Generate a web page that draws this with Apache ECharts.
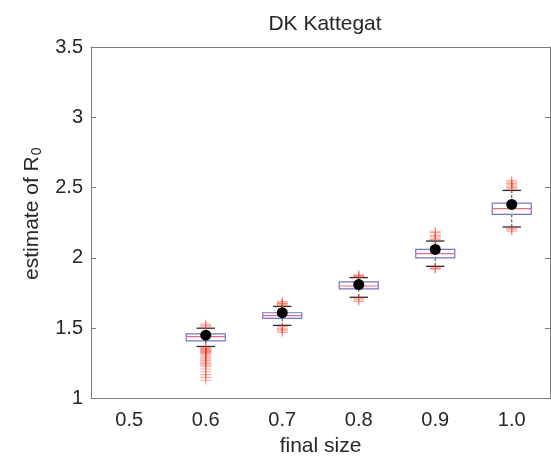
<!DOCTYPE html>
<html>
<head>
<meta charset="utf-8">
<script src="https://cdn.jsdelivr.net/npm/echarts@6/dist/echarts.min.js"></script>
<style>
html,body{margin:0;padding:0;background:#fff;}
#c{width:551px;height:463px;}
</style>
</head>
<body>
<div id="c"></div>
<script>
// ---- data ----
const categories = ['0.5', '0.6', '0.7', '0.8', '0.9', '1.0'];
const boxCats    = ['0.6', '0.7', '0.8', '0.9', '1.0'];
const whiskerLow = [1.37, 1.52, 1.72, 1.94, 2.22];
const q1         = [1.41, 1.57, 1.78, 2.00, 2.31];
const median     = [1.44, 1.59, 1.80, 2.03, 2.35];
const q3         = [1.46, 1.61, 1.83, 2.06, 2.39];
const whiskerHigh= [1.50, 1.655, 1.86, 2.12, 2.48];
const means      = [1.45, 1.61, 1.81, 2.06, 2.38];
const outliers06 = [1.51, 1.52, 1.53, 1.36, 1.355, 1.35, 1.345, 1.34, 1.335, 1.33, 1.325, 1.32, 1.31, 1.30, 1.29, 1.28, 1.27, 1.26, 1.25, 1.24, 1.23, 1.21, 1.19, 1.17, 1.15, 1.13];
const outliers07 = [1.66, 1.67, 1.675, 1.68, 1.69, 1.51, 1.50, 1.49, 1.48, 1.47];
const outliers08 = [1.865, 1.87, 1.875, 1.88, 1.71, 1.70, 1.69];
const outliers09 = [2.13, 2.14, 2.15, 2.16, 2.18, 2.19, 1.93, 1.925, 1.92];
const outliers10 = [2.49, 2.50, 2.51, 2.52, 2.53, 2.54, 2.55, 2.21, 2.20, 2.19];
const yTicks = { min: 1, max: 3.5, interval: 0.5 };

// ---- build series data ----
const outlierLists = [outliers06, outliers07, outliers08, outliers09, outliers10];
const boxData = boxCats.map((c, i) => [categories.indexOf(c), whiskerLow[i], q1[i], median[i], q3[i], whiskerHigh[i]]);
const outlierData = [];
outlierLists.forEach((lst, i) => lst.forEach(v => outlierData.push([boxCats[i], v])));
const meanData = boxCats.map((c, i) => [c, means[i]]);

const axisColor = '#7c7c7c';
const textColor = '#262626';
const font = 'Liberation Sans, Arial, sans-serif';

const chart = echarts.init(document.getElementById('c'), null, {renderer: 'canvas'});
chart.setOption({
  animation: false,
  backgroundColor: '#fff',
  title: {
    text: 'DK Kattegat', left: 320, top: 9, textAlign: 'center',
    textStyle: {fontFamily: font, fontSize: 21, fontWeight: 'normal', color: textColor}
  },
  grid: {left: 91, right: 1, top: 47, bottom: 64.5},
  xAxis: [{
    type: 'category', data: categories, boundaryGap: true,
    name: 'final size', nameLocation: 'middle', nameGap: 35,
    nameTextStyle: {fontFamily: font, fontSize: 21, color: textColor},
    axisLine: {lineStyle: {color: axisColor, width: 1}},
    axisTick: {inside: true, alignWithLabel: true, length: 5, lineStyle: {color: axisColor}},
    axisLabel: {fontFamily: font, fontSize: 20, color: textColor, margin: 12},
    splitLine: {show: false}
  }, {
    type: 'category', data: categories, boundaryGap: true, position: 'top',
    axisLine: {lineStyle: {color: axisColor, width: 1}},
    axisTick: {inside: true, alignWithLabel: true, length: 5, lineStyle: {color: axisColor}},
    axisLabel: {show: false}, splitLine: {show: false}
  }],
  yAxis: [{
    type: 'value', min: yTicks.min, max: yTicks.max, interval: yTicks.interval,
    name: '{a|estimate of R}{s|0}', nameLocation: 'middle', nameGap: 46, nameRotate: 90,
    nameTextStyle: {
      padding: [0, 0, 0, 18],
      rich: {
        a: {fontFamily: font, fontSize: 21, color: textColor},
        s: {fontFamily: font, fontSize: 14, color: textColor, padding: [10, 0, 0, 1]}
      }
    },
    axisLine: {show: true, lineStyle: {color: axisColor, width: 1}},
    axisTick: {show: true, inside: true, length: 5, lineStyle: {color: axisColor}},
    axisLabel: {fontFamily: font, fontSize: 20, color: textColor, margin: 8},
    splitLine: {show: false}
  }, {
    type: 'value', min: yTicks.min, max: yTicks.max, interval: yTicks.interval, position: 'right',
    axisLine: {show: true, lineStyle: {color: axisColor, width: 1}},
    axisTick: {show: true, inside: true, length: 5, lineStyle: {color: axisColor}},
    axisLabel: {show: false}, splitLine: {show: false}
  }],
  series: [{
    type: 'custom',
    xAxisIndex: 0, yAxisIndex: 0,
    data: boxData,
    renderItem: function (params, api) {
      const x = api.value(0);
      const band = api.size([1, 0])[0];
      const half = band * 0.255;
      const capHalf = band * 0.12;
      const pLow = api.coord([x, api.value(1)]);
      const pQ1 = api.coord([x, api.value(2)]);
      const pMed = api.coord([x, api.value(3)]);
      const pQ3 = api.coord([x, api.value(4)]);
      const pHigh = api.coord([x, api.value(5)]);
      const cx = pMed[0];
      const wStyle = {stroke: '#3a3a3a', lineWidth: 1, lineDash: [3, 2]};
      const cStyle = {stroke: '#2a2a2a', lineWidth: 1.3};
      return {
        type: 'group',
        children: [
          {type: 'line', shape: {x1: cx, y1: pQ3[1], x2: cx, y2: pHigh[1]}, style: wStyle},
          {type: 'line', shape: {x1: cx, y1: pQ1[1], x2: cx, y2: pLow[1]}, style: wStyle},
          {type: 'line', shape: {x1: cx - capHalf, y1: pHigh[1], x2: cx + capHalf, y2: pHigh[1]}, style: cStyle},
          {type: 'line', shape: {x1: cx - capHalf, y1: pLow[1], x2: cx + capHalf, y2: pLow[1]}, style: cStyle},
          {type: 'rect', shape: {x: cx - half, y: pQ3[1], width: half * 2, height: pQ1[1] - pQ3[1]},
            style: {fill: 'rgba(255,255,255,0.9)', stroke: '#7474c4', lineWidth: 1.2}},
          {type: 'line', shape: {x1: cx - half, y1: pMed[1], x2: cx + half, y2: pMed[1]},
            style: {stroke: '#e66a8a', lineWidth: 1.2}}
        ]
      };
    },
    z: 2
  }, {
    type: 'scatter',
    xAxisIndex: 0, yAxisIndex: 0,
    data: outlierData,
    symbol: 'path://M0,4.4H10V5.6H0Z M4.5,0H5.5V10H4.5Z',
    symbolSize: [11, 9],
    itemStyle: {color: 'rgba(240,60,40,0.55)'},
    z: 3
  }, {
    type: 'scatter',
    xAxisIndex: 0, yAxisIndex: 0,
    data: meanData,
    symbol: 'circle',
    symbolSize: 11,
    itemStyle: {color: '#000', opacity: 1},
    z: 4
  }]
});
</script>
</body>
</html>
